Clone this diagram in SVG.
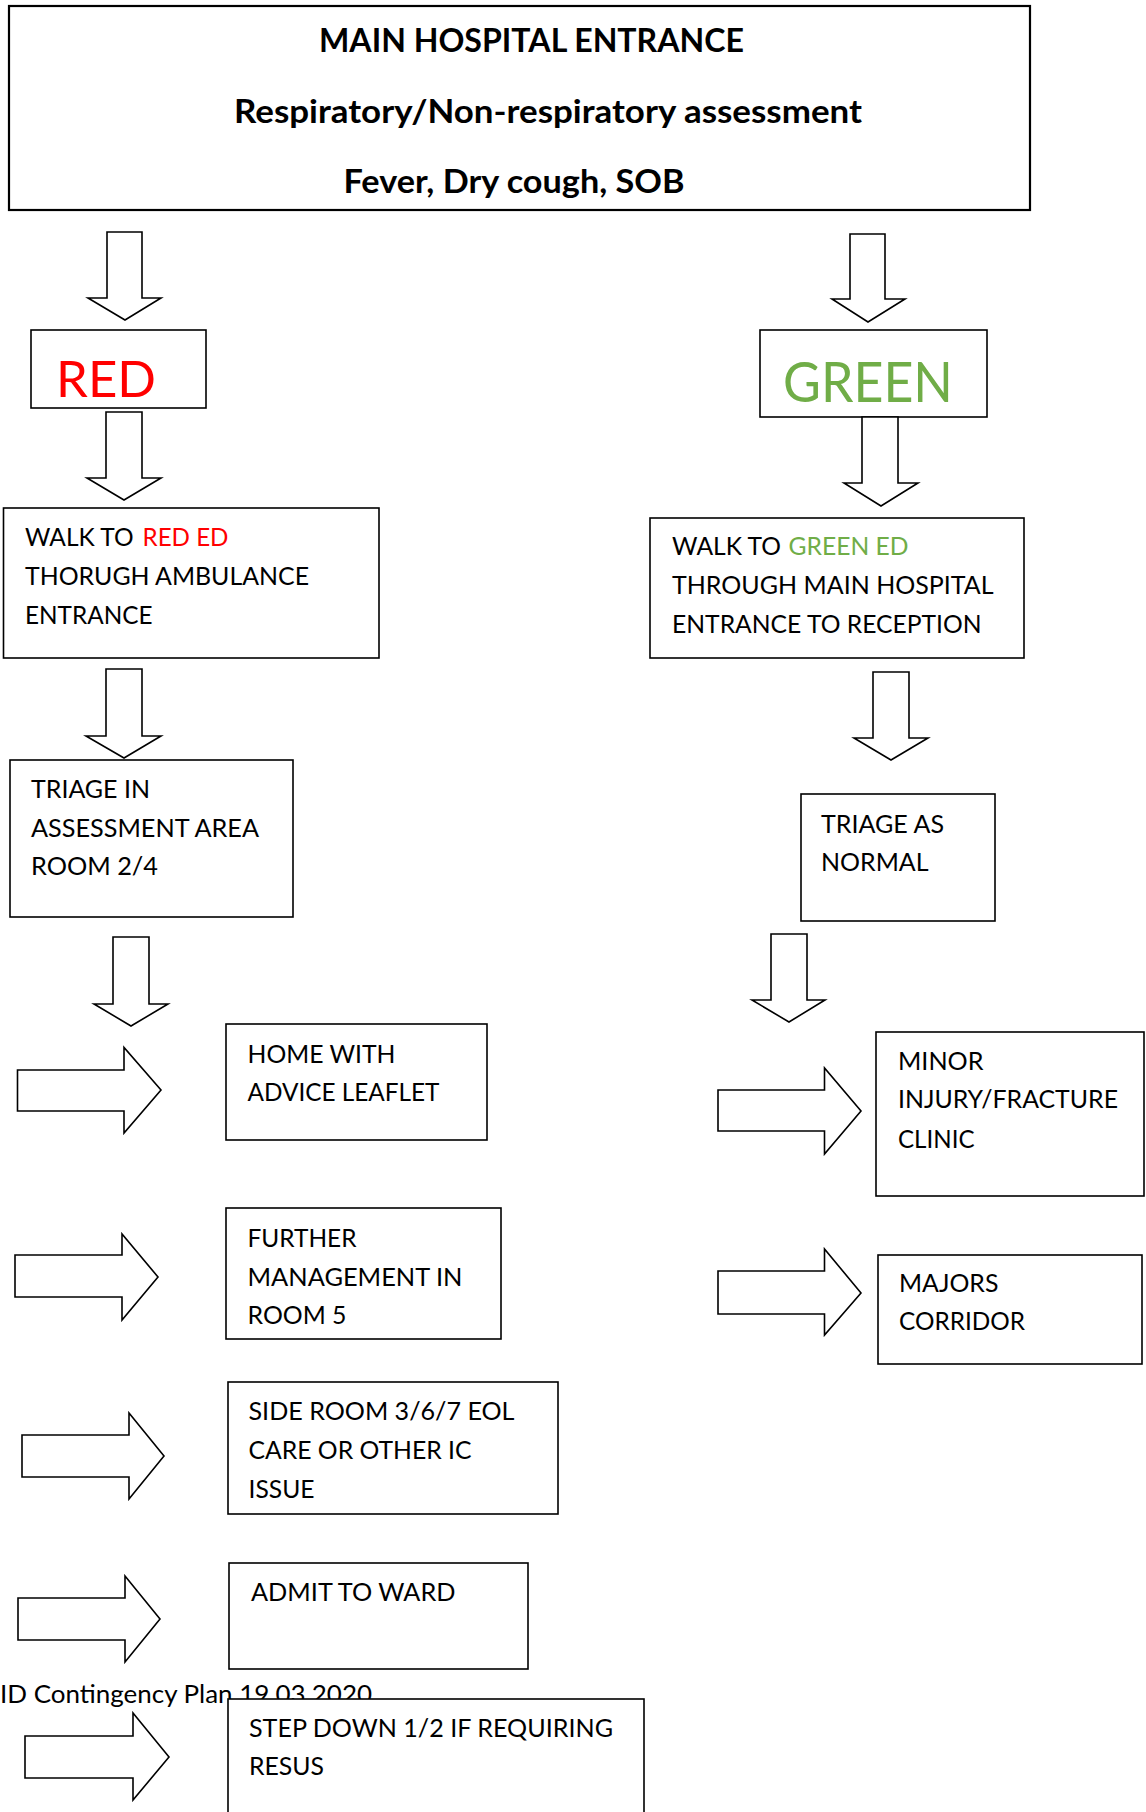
<svg xmlns="http://www.w3.org/2000/svg" width="1146" height="1812" viewBox="0 0 1146 1812">
<style>
.box{fill:#fff;stroke:#000;stroke-width:1.6}
.main{fill:#fff;stroke:#000;stroke-width:2.2}
.arr{fill:#fff;stroke:#000;stroke-width:1.6;stroke-linejoin:miter}
.t{font-family:Lato,"Liberation Sans",sans-serif;font-size:25px;fill:#000}
.h{font-family:Lato,"Liberation Sans",sans-serif;font-size:32px;font-weight:bold;fill:#000}
.red{fill:#FF0000}
.grn{fill:#70AD47}
</style>
<rect width="1146" height="1812" fill="#fff"/>

<g id="main-entrance">
<rect class="main" x="9" y="6" width="1021" height="204"/>
<text class="h" x="319" y="52" textLength="425" lengthAdjust="spacingAndGlyphs">MAIN HOSPITAL ENTRANCE</text>
<text class="h" x="234" y="123" textLength="628" lengthAdjust="spacingAndGlyphs">Respiratory/Non-respiratory assessment</text>
<text class="h" x="343.5" y="193" textLength="341" lengthAdjust="spacingAndGlyphs">Fever, Dry cough, SOB</text>
</g>

<g id="red">
<rect class="box" x="31" y="330" width="175" height="78"/>
<text class="t red" x="56" y="397" style="font-size:50px" textLength="100" lengthAdjust="spacingAndGlyphs">RED</text>
</g>

<g id="green">
<rect class="box" x="760" y="330" width="227" height="87"/>
<text class="t grn" x="783" y="402" style="font-size:57px" textLength="170" lengthAdjust="spacingAndGlyphs">GREEN</text>
</g>

<g id="walk-red">
<rect class="box" x="3.5" y="508" width="375.5" height="150"/>
<text class="t" x="25" y="546" textLength="108.5" lengthAdjust="spacingAndGlyphs">WALK TO</text>
<text class="t red" x="142.5" y="546" textLength="86" lengthAdjust="spacingAndGlyphs">RED ED</text>
<text class="t" x="25" y="585" textLength="284" lengthAdjust="spacingAndGlyphs">THORUGH AMBULANCE</text>
<text class="t" x="25" y="624" textLength="127.5" lengthAdjust="spacingAndGlyphs">ENTRANCE</text>
</g>

<g id="walk-green">
<rect class="box" x="650" y="518" width="374" height="140"/>
<text class="t" x="672" y="555" textLength="109" lengthAdjust="spacingAndGlyphs">WALK TO</text>
<text class="t grn" x="788.6" y="555" textLength="120" lengthAdjust="spacingAndGlyphs">GREEN ED</text>
<text class="t" x="672" y="594" textLength="321.6" lengthAdjust="spacingAndGlyphs">THROUGH MAIN HOSPITAL</text>
<text class="t" x="672" y="633" textLength="309.6" lengthAdjust="spacingAndGlyphs">ENTRANCE TO RECEPTION</text>
</g>

<g id="triage-in">
<rect class="box" x="10" y="760" width="283" height="157"/>
<text class="t" x="31" y="798" textLength="119" lengthAdjust="spacingAndGlyphs">TRIAGE IN</text>
<text class="t" x="31" y="837" textLength="228" lengthAdjust="spacingAndGlyphs">ASSESSMENT AREA</text>
<text class="t" x="31" y="875" textLength="127" lengthAdjust="spacingAndGlyphs">ROOM 2/4</text>
</g>

<g id="triage-as-normal">
<rect class="box" x="801" y="794" width="194" height="127"/>
<text class="t" x="821" y="833" textLength="123" lengthAdjust="spacingAndGlyphs">TRIAGE AS</text>
<text class="t" x="821" y="871" textLength="107.5" lengthAdjust="spacingAndGlyphs">NORMAL</text>
</g>

<g id="home">
<rect class="box" x="226" y="1024" width="261" height="116"/>
<text class="t" x="247.5" y="1062.5" textLength="148" lengthAdjust="spacingAndGlyphs">HOME WITH</text>
<text class="t" x="247.5" y="1101" textLength="192" lengthAdjust="spacingAndGlyphs">ADVICE LEAFLET</text>
</g>

<g id="further">
<rect class="box" x="226" y="1208" width="275" height="131"/>
<text class="t" x="247.5" y="1247" textLength="109" lengthAdjust="spacingAndGlyphs">FURTHER</text>
<text class="t" x="247.5" y="1286" textLength="215" lengthAdjust="spacingAndGlyphs">MANAGEMENT IN</text>
<text class="t" x="247.5" y="1324" textLength="99" lengthAdjust="spacingAndGlyphs">ROOM 5</text>
</g>

<g id="side-room">
<rect class="box" x="228" y="1382" width="330" height="132"/>
<text class="t" x="248.5" y="1420" textLength="266" lengthAdjust="spacingAndGlyphs">SIDE ROOM 3/6/7 EOL</text>
<text class="t" x="248.5" y="1459" textLength="223" lengthAdjust="spacingAndGlyphs">CARE OR OTHER IC</text>
<text class="t" x="248.5" y="1498" textLength="66" lengthAdjust="spacingAndGlyphs">ISSUE</text>
</g>

<g id="admit">
<rect class="box" x="229" y="1563" width="299" height="106"/>
<text class="t" x="251" y="1601" textLength="204.5" lengthAdjust="spacingAndGlyphs">ADMIT TO WARD</text>
</g>

<g id="footer">
<text class="t" x="0" y="1703" textLength="372" lengthAdjust="spacingAndGlyphs">ID Contingency Plan 19.03.2020</text>
</g>

<g id="step-down">
<rect class="box" x="228" y="1699" width="416" height="130"/>
<text class="t" x="249" y="1737" textLength="364" lengthAdjust="spacingAndGlyphs">STEP DOWN 1/2 IF REQUIRING</text>
<text class="t" x="249" y="1775" textLength="75" lengthAdjust="spacingAndGlyphs">RESUS</text>
</g>

<g id="minor">
<rect class="box" x="876" y="1032" width="268" height="164"/>
<text class="t" x="898" y="1070" textLength="85.5" lengthAdjust="spacingAndGlyphs">MINOR</text>
<text class="t" x="898" y="1108" textLength="220" lengthAdjust="spacingAndGlyphs">INJURY/FRACTURE</text>
<text class="t" x="898" y="1147.5" textLength="76.5" lengthAdjust="spacingAndGlyphs">CLINIC</text>
</g>

<g id="majors">
<rect class="box" x="878" y="1255" width="264" height="109"/>
<text class="t" x="899" y="1292" textLength="99.4" lengthAdjust="spacingAndGlyphs">MAJORS</text>
<text class="t" x="899" y="1330" textLength="126" lengthAdjust="spacingAndGlyphs">CORRIDOR</text>
</g>

<g id="connectors">
<polygon class="arr" points="107,232 142,232 142,298 161,298 125,320 88,298 107,298"/>
<polygon class="arr" points="850,234 885,234 885,299 905,299 868,322 832,299 850,299"/>
<polygon class="arr" points="106,412 142,412 142,478 161,478 124,500 87,478 106,478"/>
<polygon class="arr" points="862,417 898,417 898,483 918,483 881,506 844,483 862,483"/>
<polygon class="arr" points="106,669 142,669 142,736 161,736 124,758 86,736 106,736"/>
<polygon class="arr" points="873,672 909,672 909,738 928,738 891,760 854,738 873,738"/>
<polygon class="arr" points="113,937 149,937 149,1004 168,1004 131,1026 94,1004 113,1004"/>
<polygon class="arr" points="771,934 807,934 807,1000 825,1000 789,1022 752,1000 771,1000"/>
<polygon class="arr" points="17.5,1070 124,1070 124,1047.5 161,1090 124,1133 124,1111 17.5,1111"/>
<polygon class="arr" points="15,1255 122,1255 122,1234 158,1277 122,1320 122,1297 15,1297"/>
<polygon class="arr" points="22,1435 129,1435 129,1413 164,1456 129,1499 129,1477 22,1477"/>
<polygon class="arr" points="18,1598 125,1598 125,1576 160,1619 125,1662 125,1640 18,1640"/>
<polygon class="arr" points="25,1736 133,1736 133,1713 169,1757 133,1800 133,1778 25,1778"/>
<polygon class="arr" points="718,1090 824.5,1090 824.5,1068 861,1111 824.5,1154 824.5,1131 718,1131"/>
<polygon class="arr" points="718,1271 824.5,1271 824.5,1249 861,1293 824.5,1335 824.5,1314 718,1314"/>
</g>
</svg>
